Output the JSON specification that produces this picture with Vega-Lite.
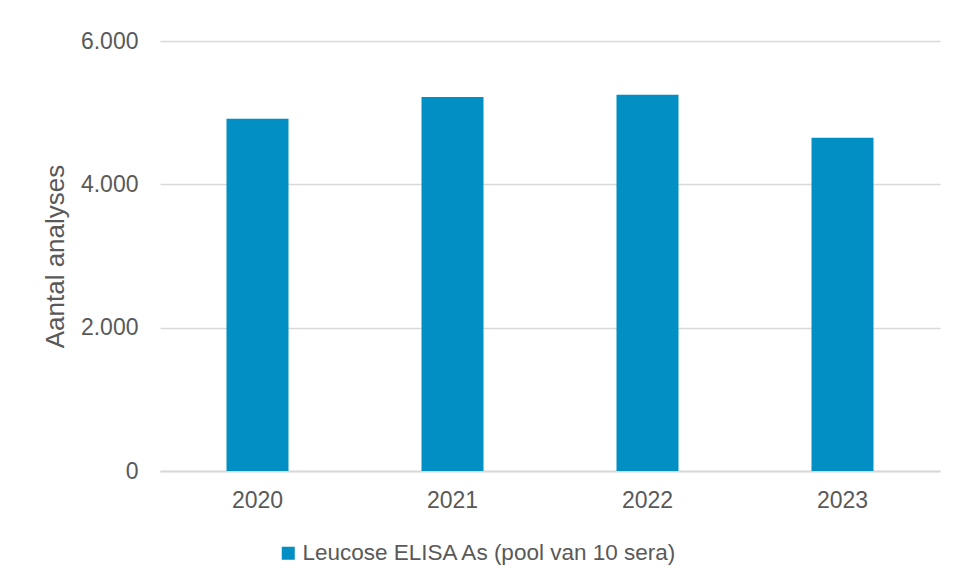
{
  "$schema": "https://vega.github.io/schema/vega-lite/v6.json",
  "width": 780,
  "height": 430,
  "autosize": {"type": "none"},
  "padding": {"left": 160, "top": 41, "right": 17, "bottom": 110},
  "background": "white",
  "config": {
    "view": {"stroke": null},
    "font": "Liberation Sans",
    "locale": {
      "number": {"decimal": ",", "thousands": ".", "grouping": [3], "currency": ["€", ""]}
    }
  },
  "data": {
    "values": [
      {"jaar": "2020", "analyses": 4915, "reeks": "Leucose ELISA As (pool van 10 sera)"},
      {"jaar": "2021", "analyses": 5218, "reeks": "Leucose ELISA As (pool van 10 sera)"},
      {"jaar": "2022", "analyses": 5250, "reeks": "Leucose ELISA As (pool van 10 sera)"},
      {"jaar": "2023", "analyses": 4650, "reeks": "Leucose ELISA As (pool van 10 sera)"}
    ]
  },
  "mark": {"type": "bar"},
  "encoding": {
    "x": {
      "field": "jaar",
      "type": "ordinal",
      "scale": {"paddingInner": 0.682, "paddingOuter": 0.341},
      "axis": {
        "title": null,
        "labelAngle": 0,
        "labelFontSize": 23,
        "labelColor": "#595959",
        "domainColor": "#d9d9d9",
        "domainWidth": 2,
        "ticks": false,
        "labelPadding": 18
      }
    },
    "y": {
      "field": "analyses",
      "type": "quantitative",
      "scale": {"domain": [0, 6000]},
      "axis": {
        "values": [0, 2000, 4000, 6000],
        "format": ",d",
        "title": "Aantal analyses",
        "titleFontSize": 26,
        "titleFontWeight": "normal",
        "titleColor": "#595959",
        "titlePadding": 12,
        "labelFontSize": 23,
        "labelColor": "#595959",
        "labelPadding": 22,
        "domain": false,
        "ticks": false,
        "gridColor": "#d9d9d9",
        "gridWidth": 1.5
      }
    },
    "color": {
      "field": "reeks",
      "type": "nominal",
      "scale": {"range": ["#028fc3"]},
      "legend": {
        "title": null,
        "orient": "none",
        "legendX": 117,
        "legendY": 501,
        "symbolType": "square",
        "symbolSize": 169,
        "symbolStrokeWidth": 0,
        "labelFontSize": 22.5,
        "labelColor": "#595959",
        "labelOffset": 3,
        "labelLimit": 600
      }
    }
  }
}
